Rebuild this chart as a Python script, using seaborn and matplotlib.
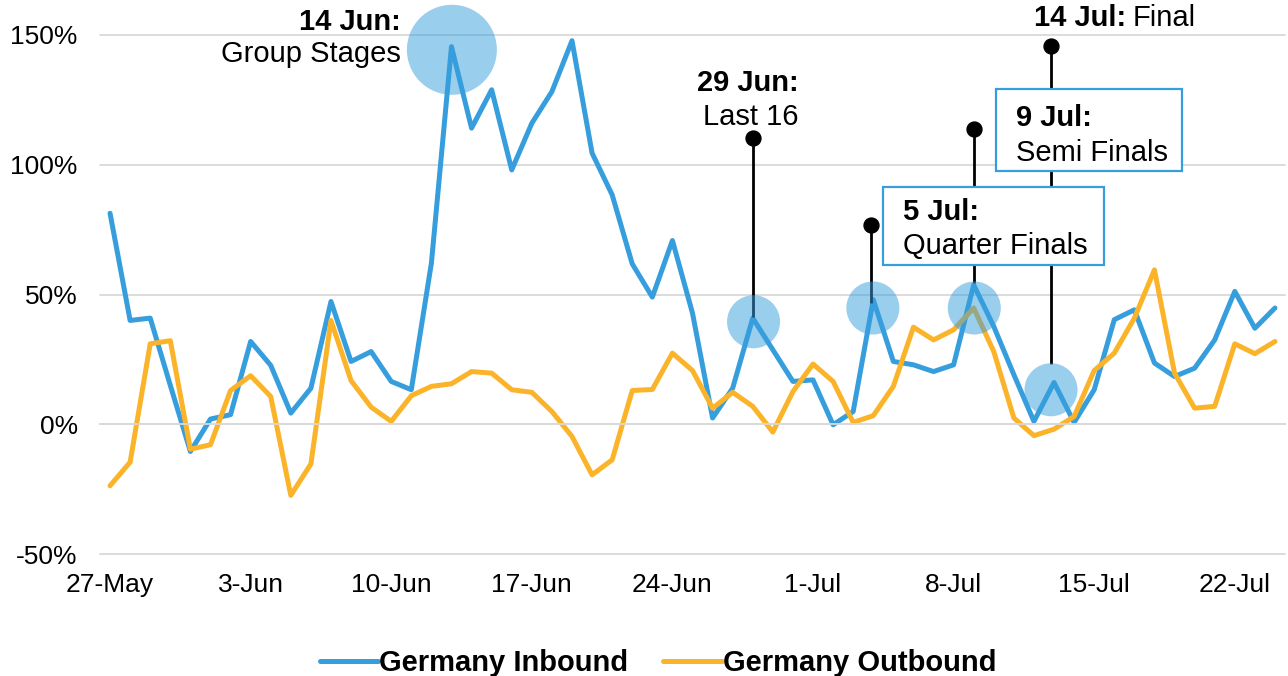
import numpy as np
import pandas as pd
import matplotlib
matplotlib.use("Agg")
import matplotlib.pyplot as plt
from matplotlib.patches import Rectangle
import seaborn as sns

# Daily year-on-year change (%), 27 May - 24 Jul
inbound = [81.3, 40.0, 40.9, 15.0, -10.5, 2.0, 3.7, 31.9, 22.7, 4.3,
           13.9, 47.3, 24.2, 28.0, 16.5, 13.3, 62.1, 145.5, 114.1, 128.9,
           98.0, 116.0, 128.2, 147.8, 104.5, 88.4, 61.8, 49.0, 70.8, 42.8,
           2.4, 13.9, 40.9, 28.7, 16.5, 17.1, -0.2, 4.9, 48.0, 24.2,
           22.9, 20.3, 22.9, 53.7, 37.7, 19.1, 1.1, 16.1, 0.7, 13.3,
           40.3, 44.1, 23.6, 18.4, 21.6, 32.5, 51.2, 37.0, 44.8]
outbound = [-23.7, -14.6, 31.0, 32.2, -9.6, -7.9, 13.0, 18.7, 10.7, -27.4,
            -15.3, 40.0, 16.8, 6.6, 1.1, 11.0, 14.6, 15.6, 20.3, 19.7,
            13.3, 12.3, 4.9, -4.7, -19.5, -13.7, 13.0, 13.4, 27.4, 20.7,
            6.2, 12.3, 6.9, -3.0, 12.6, 23.2, 16.5, 0.7, 3.3, 14.6,
            37.4, 32.5, 36.4, 44.8, 28.0, 2.4, -4.4, -1.9, 3.0, 20.7,
            27.4, 40.9, 59.5, 19.7, 6.2, 6.9, 31.0, 27.2, 31.9]
series_names = ["Germany Inbound", "Germany Outbound"]
week_labels = ["27-May", "3-Jun", "10-Jun", "17-Jun", "24-Jun",
               "1-Jul", "8-Jul", "15-Jul", "22-Jul"]
y_ticks = [-50, 0, 50, 100, 150]

# Match-day highlights (day index, % level)
bubble_x = [17.02, 32.04, 37.98, 43.03, 46.85]
bubble_y = [144.3, 39.5, 44.8, 44.8, 13.3]
bubble_size = [4200, 1460, 1460, 1460, 1460]

# Pins: x, top (dot), bottom
pin_x = [32.02, 37.88, 43.04, 46.85]
pin_top = [110.4, 76.9, 113.9, 145.6]
pin_bottom = [41.4, 46.8, 54.5, 23.3]

BLUE = "#379EDD"
ORANGE = "#FBB42A"
GRID = "#D9D9D9"

sns.set_theme(style="white")
plt.rcParams["font.family"] = ["Liberation Sans", "DejaVu Sans"]
plt.rcParams["text.color"] = "black"

n = len(inbound)
day = np.arange(n)
df = pd.DataFrame({
    "day": np.concatenate([day, day]),
    "change": inbound + outbound,
    "series": [series_names[0]] * n + [series_names[1]] * n,
})

fig = plt.figure(figsize=(12.88, 6.76), dpi=100)
ax = fig.add_axes([100 / 1288, 122 / 676, 1185 / 1288, 519 / 676])

sns.lineplot(data=df, x="day", y="change", hue="series",
             palette=[BLUE, ORANGE], linewidth=3.6, ax=ax, zorder=2)

ax.set_xlim(-0.5, n - 0.5)
ax.set_ylim(-50, 150)
ax.set_xlabel("")
ax.set_ylabel("")

# y axis: percentage gridlines
ax.set_yticks(y_ticks)
ax.set_yticklabels([f"{v}%" for v in y_ticks])
ax.tick_params(axis="y", length=0, pad=16, labelsize=19, labelcolor="black")
ax.grid(axis="y", color=GRID, linewidth=1.3)
ax.grid(axis="x", visible=False)
for gl in ax.get_ygridlines():
    gl.set_clip_on(False)
ax.set_axisbelow(True)

for side in ["left", "right", "top"]:
    ax.spines[side].set_visible(False)
ax.spines["bottom"].set_position(("data", 0))
ax.spines["bottom"].set_color(GRID)
ax.spines["bottom"].set_linewidth(1.3)

# week boundary tick marks on the zero line
week_starts = np.arange(0, n, 7)
ax.set_xticks(week_starts - 0.5)
ax.set_xticklabels([])
ax.tick_params(axis="x", length=7, width=1.3, color=GRID, direction="out")

# date labels along the bottom edge
sec = ax.secondary_xaxis("bottom")
sec.set_xticks(week_starts, labels=week_labels)
sec.tick_params(length=0, pad=14, labelsize=19, labelcolor="black")
sec.spines["bottom"].set_visible(False)

# highlight bubbles
ax.scatter(bubble_x, bubble_y, s=bubble_size, color=BLUE, alpha=0.5,
           linewidths=0, zorder=4, clip_on=False)

# pins
ax.vlines(pin_x, pin_bottom, pin_top, color="black", linewidth=2, zorder=3)
ax.scatter(pin_x, pin_top, s=115, color="black", zorder=3, clip_on=False)

# boxed labels
for (x0, x1, y0, y1) in [(38.48, 49.5, 61.2, 91.6), (44.12, 53.38, 97.4, 129.2)]:
    ax.add_patch(Rectangle((x0, y0), x1 - x0, y1 - y0, facecolor="white",
                           edgecolor=BLUE, linewidth=1.6, zorder=5, clip_on=False))

FS = 21
labels = [
    ("14 Jun:", 14.49, 151.9, "right", "bold"),
    ("Group Stages", 14.49, 139.5, "right", "normal"),
    ("29 Jun:", 34.26, 128.6, "right", "bold"),
    ("Last 16", 34.26, 115.4, "right", "normal"),
    ("5 Jul:", 39.47, 78.8, "left", "bold"),
    ("Quarter Finals", 39.47, 65.7, "left", "normal"),
    ("9 Jul:", 45.12, 115.0, "left", "bold"),
    ("Semi Finals", 45.12, 101.3, "left", "normal"),
]
for txt, x, y, ha, wt in labels:
    ax.text(x, y, txt, ha=ha, va="baseline", fontsize=FS, fontweight=wt,
            zorder=6, clip_on=False)

final_head = ax.text(45.98, 153.3, "14 Jul:", ha="left", va="baseline",
                     fontsize=FS, fontweight="bold", zorder=6, clip_on=False)
ax.annotate("Final", xy=(1, 0), xycoords=final_head, xytext=(5, 0),
            textcoords="offset points", ha="left", va="bottom",
            fontsize=FS, zorder=6)

# legend
handles, names = ax.get_legend_handles_labels()
ax.get_legend().remove()
ax.legend(handles, names, loc="center", bbox_to_anchor=(0.471, -0.21),
          ncol=2, frameon=False, prop={"weight": "bold", "size": 21},
          handlelength=2.0, handletextpad=0.05, columnspacing=1.2)

fig.savefig("out.png", dpi=100)
